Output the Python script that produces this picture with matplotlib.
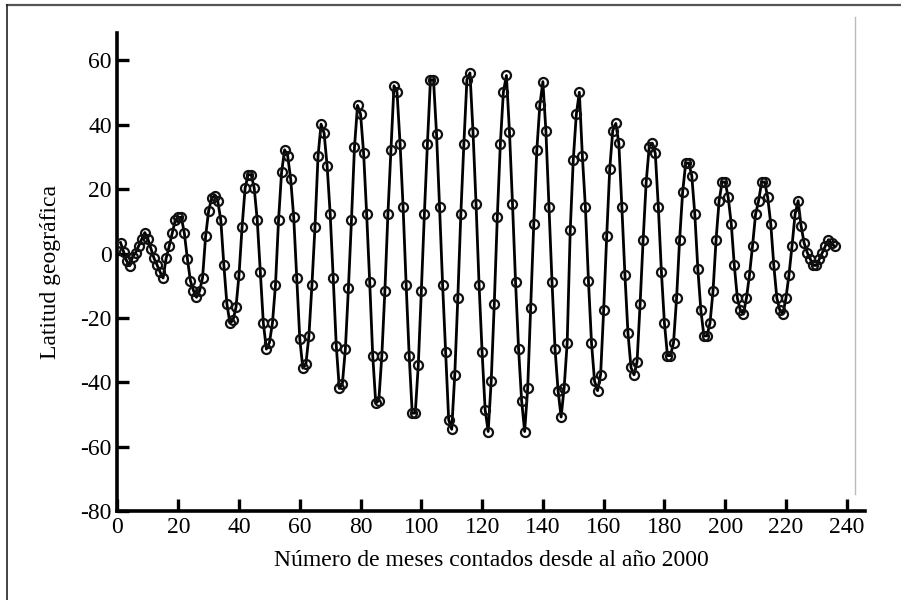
import matplotlib
matplotlib.use("Agg")
import matplotlib.pyplot as plt
from matplotlib.lines import Line2D
import numpy as np

plt.rcParams['font.family'] = ['Liberation Serif', 'DejaVu Serif']
plt.rcParams['axes.unicode_minus'] = False

# latitude, one point per month (months 1..236)
latitud = [
    3.4, 0.6, -2.3, -3.8, -1.0, 0.3, 2.4, 4.5, 6.5, 4.5,
    1.5, -1.4, -3.5, -5.7, -7.6, -1.5, 2.2, 6.3, 10.3, 11.2,
    11.3, 6.3, -1.6, -8.5, -11.5, -13.6, -11.7, -7.5, 5.3, 13.3,
    17.2, 18.0, 16.3, 10.4, -3.5, -15.6, -21.6, -20.8, -16.7, -6.6,
    8.2, 20.3, 24.5, 24.5, 20.3, 10.3, -5.6, -21.6, -29.7, -27.7,
    -21.6, -9.7, 10.3, 25.2, 32.2, 30.4, 23.1, 11.2, -7.5, -26.6,
    -35.6, -34.4, -25.6, -9.7, 8.3, 30.2, 40.2, 37.4, 27.1, 12.3,
    -7.7, -28.6, -41.9, -40.6, -29.6, -10.8, 10.3, 33.1, 46.0, 43.3,
    31.2, 12.3, -8.7, -31.7, -46.5, -45.7, -31.7, -11.6, 12.3, 32.0,
    52.1, 50.1, 34.1, 14.3, -9.7, -31.7, -49.6, -49.6, -34.6, -11.6,
    12.3, 34.1, 54.0, 54.0, 37.2, 14.3, -9.7, -30.7, -51.7, -54.6,
    -37.7, -13.9, 12.3, 34.1, 54.0, 56.1, 37.9, 15.5, -9.7, -30.7,
    -48.6, -55.3, -39.5, -15.7, 11.3, 34.0, 50.2, 55.3, 37.9, 15.5,
    -8.7, -29.6, -45.7, -55.3, -41.9, -16.8, 9.2, 32.0, 46.1, 53.4,
    38.0, 14.3, -8.7, -29.7, -42.6, -50.8, -41.7, -27.7, 7.2, 29.1,
    43.2, 50.1, 30.2, 14.3, -8.5, -27.7, -39.6, -42.6, -37.6, -17.7,
    5.3, 26.2, 38.2, 40.4, 34.2, 14.3, -6.6, -24.7, -35.4, -37.7,
    -33.6, -15.6, 4.3, 22.2, 33.2, 34.3, 31.1, 14.4, -5.6, -21.6,
    -31.7, -31.7, -27.7, -13.9, 4.3, 19.1, 28.1, 28.1, 24.2, 12.2,
    -4.8, -17.7, -25.6, -25.6, -21.6, -11.6, 4.3, 16.4, 22.2, 22.2,
    17.4, 9.2, -3.7, -13.8, -17.7, -18.8, -13.8, -6.6, 2.4, 12.2,
    16.4, 22.2, 22.2, 17.4, 9.2, -3.7, -13.8, -17.7, -18.8, -13.8,
    -6.6, 2.4, 12.2, 16.4, 8.4, 3.2, 0.3, -1.7, -3.7, -3.7,
    -1.7, 0.3, 2.4, 4.3, 3.2, 2.2,
]
meses = np.arange(1, len(latitud) + 1)

x_ticks = list(range(0, 241, 20))
y_ticks = list(range(-80, 61, 20))

fig = plt.figure(figsize=(9.01, 6.0), dpi=100)
ax = fig.add_axes([0.1304, 0.1483, 0.8296, 0.7967])

ax.plot(meses, latitud, color='black', lw=2.0, marker='o', ms=6.5,
        mfc='none', mec='#111111', mew=1.6, zorder=3)

ax.set_xlim(0, 246)
ax.set_ylim(-80, 68.5)
ax.set_xticks(x_ticks)
ax.set_yticks(y_ticks)

for side in ['top', 'right']:
    ax.spines[side].set_visible(False)
for side in ['left', 'bottom']:
    ax.spines[side].set_linewidth(2.6)
ax.tick_params(direction='in', length=8.5, width=2.4, labelsize=17, pad=4)

ax.set_xlabel('Número de meses contados desde al año 2000', fontsize=17, labelpad=9)
ax.set_ylabel('Latitud geográfica', fontsize=17, labelpad=14)

# screenshot frame lines around the chart
fig.add_artist(Line2D([7 / 901, 1], [1 - 5 / 600, 1 - 5 / 600], color='#555555', lw=1.6))
fig.add_artist(Line2D([7 / 901, 7 / 901], [0, 1 - 5 / 600], color='#222222', lw=1.2))
fig.add_artist(Line2D([855 / 901, 855 / 901], [1 - 494 / 600, 1 - 17 / 600], color='#bbbbbb', lw=1.0))

plt.savefig('out.png', dpi=100)
